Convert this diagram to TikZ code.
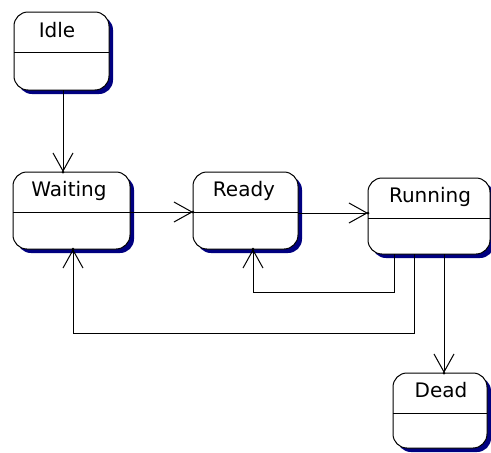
\documentclass[tikz,border=0pt]{standalone}
\usepackage{fontspec}
\setmainfont{DejaVu Sans}
\usetikzlibrary{arrows.meta,backgrounds}
\definecolor{shadowblue}{RGB}{0,0,128}
\tikzset{
  statebox/.style={draw=black, line width=1pt, fill=white, rounded corners=14pt,
    inner sep=0pt, outer sep=0pt, anchor=north west},
  shadowbox/.style={fill=shadowblue, rounded corners=14pt},
  statename/.style={anchor=base, font=\fontsize{20}{24}\selectfont, inner sep=0pt},
  divider/.style={line width=1pt},
  arr/.style={line width=1pt, -{Straight Barb[length=18pt,width=20pt,line width=1pt]}},
  tipdot/.style={fill=black}
}
\newcommand{\boxsize}[2]{\rule{#1pt}{0pt}\rule{0pt}{#2pt}}
\begin{document}
\begin{tikzpicture}[x=1pt,y=-1pt]
\useasboundingbox (0,0) rectangle (491,453);
% state boxes (top-left corners)
\node[statebox] (idle)    at (14,12)   {\boxsize{95}{78}};
\node[statebox] (waiting) at (13,172)  {\boxsize{117}{77}};
\node[statebox] (ready)   at (193,172) {\boxsize{105}{77}};
\node[statebox] (running) at (368,178) {\boxsize{122}{76}};
\node[statebox] (dead)    at (393,373) {\boxsize{94}{75}};

% shadows
\begin{scope}[on background layer]
\foreach \s in {idle,waiting,ready,running,dead}
  \fill[shadowbox] ([shift={(4pt,-4pt)}]\s.south west) rectangle ([shift={(4pt,-4pt)}]\s.north east);
\end{scope}

% names
\node[statename] (idlet) at (57,37) {Idle};
\node[statename] (waitingt) at (69,196) {Waiting};
\node[statename] (readyt) at (244,196) {Ready};
\node[statename] (runningt) at (430,202) {Running};
\node[statename] (deadt) at (441,397) {Dead};

% dividers
\foreach \s in {idle,waiting,ready,running,dead}
  \draw[divider] ([yshift=-40pt]\s.north west) -- ([yshift=-40pt]\s.north east);

% routing coordinates
\coordinate (c1) at (63,0);
\coordinate (c2) at (0,212);
\coordinate (c3) at (0,213);
\coordinate (rr) at (394,292);
\coordinate (rl) at (253,292);
\coordinate (wr) at (414,333);
\coordinate (wl) at (73,333);
\coordinate (dd) at (444,0);

% transitions
\draw[arr] (idle.south -| c1) -- (waiting.north -| c1);
\draw[arr] (waiting.east |- c2) -- (ready.west |- c2);
\draw[arr] (ready.east |- c3) -- (running.west |- c3);
\draw[arr] (running.south -| rr) -- (rr) -- (rl) -- (ready.south -| rl);
\draw[arr] (running.south -| wr) -- (wr) -- (wl) -- (waiting.south -| wl);
\draw[arr] (running.south -| dd) -- (dead.north -| dd);

% tip dots
\fill[tipdot] (waiting.north -| c1) circle (1.5pt);
\fill[tipdot] (ready.west |- c2) circle (1.5pt);
\fill[tipdot] (running.west |- c3) circle (1.5pt);
\fill[tipdot] (ready.south -| rl) circle (1.5pt);
\fill[tipdot] (waiting.south -| wl) circle (1.5pt);
\fill[tipdot] (dead.north -| dd) circle (1.5pt);
\end{tikzpicture}
\end{document}
